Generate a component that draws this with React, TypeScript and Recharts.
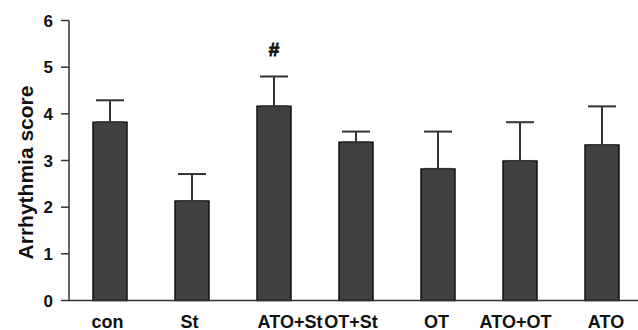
import React from 'react';
import { BarChart, Bar, XAxis, YAxis, ErrorBar, LabelList } from 'recharts';

const groups = ['con', 'St', 'ATO+St', 'OT+St', 'OT', 'ATO+OT', 'ATO'];
const scores = [3.82, 2.13, 4.16, 3.39, 2.82, 2.99, 3.33];
const sems = [0.47, 0.58, 0.64, 0.23, 0.8, 0.83, 0.83];
const marks = ['', '', '#', '', '', '', ''];
const yTicks = [0, 1, 2, 3, 4, 5, 6];

const data = groups.map((g, i) => ({
  name: g,
  score: scores[i],
  err: [0, sems[i]],
  mark: marks[i],
}));

const FONT = '"Liberation Sans", Arial, Helvetica, sans-serif';
const AXIS = '#333333';

// nudges so the x labels sit like the printed figure
const labelShift: Record<string, number> = {
  con: -2.5, St: -2.5, 'ATO+St': 16, 'OT+St': -5, OT: -1.5, 'ATO+OT': -4.5, ATO: 4,
};

const XTick = (props: any) => {
  const { x, y, payload } = props;
  const dx = labelShift[payload.value] || 0;
  return (
    <text x={x + dx} y={y} dy={13} textAnchor="middle" fontFamily={FONT} fontSize={18} fontWeight="bold" fill="#111">
      {payload.value}
    </text>
  );
};

const YLabel = (props: any) => {
  const { viewBox } = props;
  const cx = viewBox.x + 25;
  const cy = viewBox.y + viewBox.height / 2 + 12;
  return (
    <text x={cx} y={cy} transform={`rotate(-90 ${cx} ${cy})`} textAnchor="middle" dominantBaseline="central"
      fontFamily={FONT} fontSize={21} fontWeight="bold" fill="#111">
      Arrhythmia score
    </text>
  );
};

// significance mark above the error bar
const Mark = (props: any) => {
  const { x, y, width, value } = props;
  if (!value) return null;
  return (
    <text x={x + width / 2} y={y - 50} textAnchor="middle" fontFamily={FONT} fontSize={19} fontWeight="bold"
      fill="#111" stroke="#111" strokeWidth={0.8}>
      {value}
    </text>
  );
};

const App: React.FC = () => {
  return (
    <div style={{ position: 'absolute', left: 0, top: 0, width: 638, height: 330, overflow: 'hidden', background: '#fff' }}>
      <BarChart width={645} height={330} data={data} margin={{ top: 20.5, right: 2, bottom: 0, left: 0 }} barSize={34}>
        <XAxis
          dataKey="name"
          height={29.5}
          tickLine={false}
          tickSize={0}
          tickMargin={14}
          interval={0}
          stroke={AXIS}
          strokeWidth={1.5}
          tick={<XTick />}
        />
        <YAxis
          width={69}
          domain={[0, 6]}
          ticks={yTicks}
          interval={0}
          tickSize={8}
          tickMargin={8}
          stroke={AXIS}
          strokeWidth={1.5}
          tick={{ fontFamily: FONT, fontSize: 17, fontWeight: 'bold', fill: '#111' }}
          label={<YLabel />}
        />
        <Bar dataKey="score" fill="#404040" stroke="#111" strokeWidth={1.5} isAnimationActive={false}>
          <ErrorBar dataKey="err" direction="y" width={14} stroke="#333" strokeWidth={2} />
          <LabelList dataKey="mark" content={<Mark />} />
        </Bar>
      </BarChart>
    </div>
  );
};

export default App;
